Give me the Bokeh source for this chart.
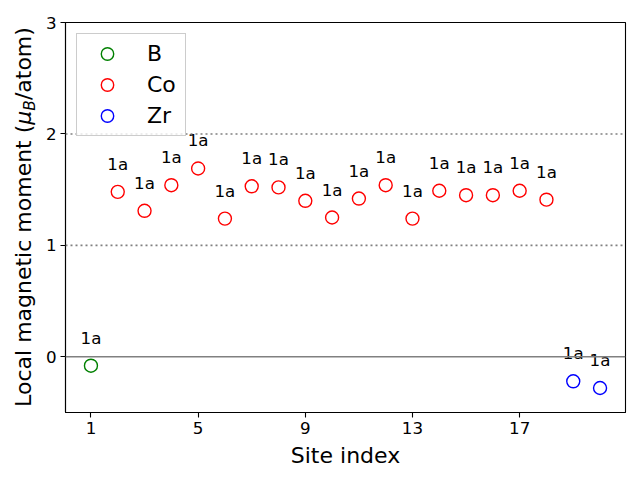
from bokeh.plotting import figure
from bokeh.models import ColumnDataSource, FixedTicker, Span, Legend, LegendItem, Range1d, Div
from bokeh.layouts import row
from bokeh.embed import file_html
from bokeh.resources import INLINE
from bokeh.core.properties import value

# ---- data ----
site_index = list(range(1, 21))
species = ["B"] + ["Co"] * 17 + ["Zr"] * 2
moments = [-0.08, 1.48, 1.31, 1.54, 1.69, 1.24, 1.53, 1.52, 1.40, 1.25,
           1.42, 1.54, 1.24, 1.49, 1.45, 1.45, 1.49, 1.41, -0.22, -0.28]
wyckoff = ["1a"] * 20
species_order = ["B", "Co", "Zr"]
species_colors = {"B": "green", "Co": "red", "Zr": "blue"}
x_ticks = [1, 5, 9, 13, 17]
y_ticks = [0, 1, 2, 3]
ref_lines = [1, 2]
x_label = "Site index"
y_label_html = "Local magnetic moment (<i>μ<sub style='font-size:70%;vertical-align:-4px;'>B</sub></i>/atom)"

FONT = "DejaVu Sans"
LABEL_PX = 22
DIV_W = 40
TOTAL_H = 472

p = figure(width=632 - DIV_W, height=TOTAL_H, output_backend="svg", toolbar_location=None,
           x_range=Range1d(0.05, 20.95), y_range=Range1d(-0.5, 3.0),
           min_border_left=65 - DIV_W, min_border_right=7, min_border_top=22, min_border_bottom=60)
p.frame_width = 560
p.frame_height = 390

p.xgrid.visible = False
p.ygrid.visible = False
p.outline_line_color = "black"
p.outline_line_width = 1.1

for ax in (p.xaxis[0], p.yaxis[0]):
    ax.major_label_text_font = FONT
    ax.major_label_text_font_size = "16.7px"
    ax.major_label_text_color = "black"
    ax.axis_label_text_font = FONT
    ax.axis_label_text_font_size = f"{LABEL_PX}px"
    ax.axis_label_text_font_style = "normal"
    ax.axis_label_text_color = "black"
    ax.axis_line_color = "black"
    ax.axis_line_width = 1.1
    ax.major_tick_line_color = "black"
    ax.major_tick_line_width = 1.1
    ax.major_tick_out = 5
    ax.major_tick_in = 0
    ax.minor_tick_line_color = None
    ax.major_label_standoff = 4

p.xaxis.ticker = FixedTicker(ticks=x_ticks)
p.yaxis.ticker = FixedTicker(ticks=y_ticks)
p.xaxis.axis_label = x_label
p.xaxis.axis_label_standoff = 6

p.add_layout(Span(location=0, dimension="width", line_color="gray", line_width=1.6))
for r in ref_lines:
    p.add_layout(Span(location=r, dimension="width", line_color="gray",
                      line_width=1.6, line_dash="2 3"))

items = []
for sp in species_order:
    idx = [i for i, s in enumerate(species) if s == sp]
    src = ColumnDataSource(dict(x=[site_index[i] for i in idx],
                                y=[moments[i] for i in idx],
                                lab=[wyckoff[i] for i in idx]))
    r = p.scatter("x", "y", source=src, marker="circle", size=13,
                  fill_color=None, line_color=species_colors[sp], line_width=1.4)
    items.append(LegendItem(label=sp, renderers=[r]))
    p.text("x", "y", text="lab", source=src, text_font=value(FONT),
           text_font_size="16.7px", text_align="center", text_baseline="middle",
           y_offset=-28, text_color="black")

legend = Legend(items=items, location="top_left")
legend.label_text_font = FONT
legend.label_text_font_size = "22px"
legend.label_text_color = "black"
legend.border_line_color = "#cccccc"
legend.border_line_alpha = 1
legend.background_fill_alpha = 0.8
legend.glyph_width = 52
legend.glyph_height = 31
legend.label_standoff = 14
legend.label_height = 31
legend.label_width = 34
legend.spacing = 0
legend.padding = 4
legend.margin = 11
p.add_layout(legend)

# rotated y-axis title (real text) placed to the left of the plot
ylab = Div(
    text=(f"<div style='position:relative;width:{DIV_W}px;height:{TOTAL_H}px;'>"
          f"<div style=\"position:absolute;left:27px;top:217px;"
          f"transform:translate(-50%,-50%) rotate(-90deg);white-space:nowrap;"
          f"font-family:'DejaVu Sans';font-size:{LABEL_PX}px;line-height:{LABEL_PX}px;color:black;\">"
          f"{y_label_html}</div></div>"),
    width=DIV_W, height=TOTAL_H, margin=0)

layout = row(ylab, p, spacing=0)
open("out.html", "w").write(file_html(layout, INLINE))
